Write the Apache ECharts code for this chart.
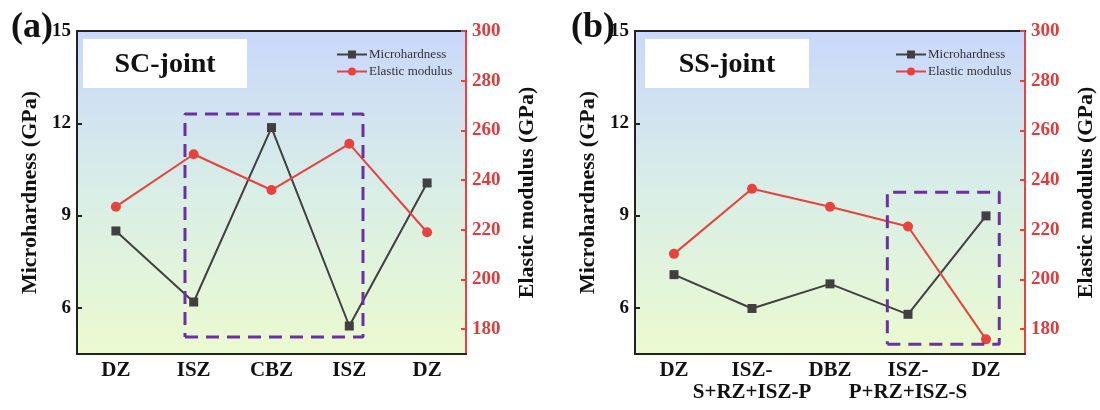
<!DOCTYPE html>
<html lang="en">
<head>
  <meta charset="UTF-8">
  <title>Microhardness / Elastic modulus</title>
  <script src="https://cdn.jsdelivr.net/npm/echarts@6/dist/echarts.min.js"></script>
  <style>
    html, body { margin: 0; padding: 0; background: #fff; }
    #main { width: 1100px; height: 410px; }
  </style>
</head>
<body>
<div id="main"></div>
<script>
  // data
  var catsA = ['DZ', 'ISZ', 'CBZ', 'ISZ', 'DZ'];
  var hardA = [8.5, 6.19, 11.86, 5.41, 10.06];
  var modA = [229.3, 250.4, 236.0, 254.6, 219.0];

  var catsB = ['DZ', 'ISZ-\nS+RZ+ISZ-P', 'DBZ', 'ISZ-\nP+RZ+ISZ-S', 'DZ'];
  var hardB = [7.08, 5.98, 6.78, 5.79, 8.99];
  var modB = [210.3, 236.5, 229.3, 221.3, 175.9];

  var hardTicks = [6, 9, 12, 15];
  var modTicks = [180, 200, 220, 240, 260, 280, 300];

  // dashed boxes: [x0, x1] in category index, [y0, y1] in GPa (hardness axis)
  var boxAx = [0.888, 3.176], boxAy = [5.05, 12.3];
  var boxBx = [2.735, 4.17], boxBy = [4.82, 9.76];

  var FONT = "'Liberation Serif', 'Times New Roman', serif";
  var RED = '#e8423f';
  var RED_TXT = '#e03a3a';
  var GREY = '#404040';
  var PURPLE = '#6a32a0';

  var chart = echarts.init(document.getElementById('main'));

  function bg() {
    return new echarts.graphic.LinearGradient(0, 0, 0, 1, [
      { offset: 0, color: '#c9d8fb' },
      { offset: 0.5, color: '#d9eee6' },
      { offset: 1, color: '#ebfad0' }
    ]);
  }

  function boxPts(bx, by) {
    return [[bx[0], by[0]], [bx[1], by[0]], [bx[1], by[1]], [bx[0], by[1]], [bx[0], by[0]]];
  }

  function catAxis(grid, cats) {
    return {
      type: 'category', gridIndex: grid, data: cats, boundaryGap: true,
      axisLine: { lineStyle: { color: '#222', width: 2 } },
      axisTick: { inside: true, alignWithLabel: true, length: 5, lineStyle: { color: '#222', width: 2 } },
      axisLabel: { interval: 0, color: '#111', fontFamily: FONT, fontWeight: 'bold', fontSize: 21, margin: 6, lineHeight: 22 },
      splitLine: { show: false }
    };
  }

  // hidden value axis on top: used for the dashed box and the black top border
  function topAxis(grid) {
    return {
      type: 'value', gridIndex: grid, position: 'top', min: -0.5, max: 4.5,
      axisLine: { show: true, onZero: false, lineStyle: { color: '#222', width: 2 } },
      axisTick: { show: false }, axisLabel: { show: false }, splitLine: { show: false }
    };
  }

  function hardAxis(grid) {
    return {
      type: 'value', gridIndex: grid, position: 'left', min: 4.5, max: 15,
      name: 'Microhardness (GPa)', nameLocation: 'middle', nameGap: 36,
      nameTextStyle: { color: '#111', fontFamily: FONT, fontWeight: 'bold', fontSize: 22 },
      axisLine: { show: true, onZero: false, lineStyle: { color: '#222', width: 2 } },
      axisTick: { show: true, inside: true, length: 5, customValues: hardTicks, lineStyle: { color: '#222', width: 2 } },
      axisLabel: { customValues: hardTicks, color: '#111', fontFamily: FONT, fontWeight: 'bold', fontSize: 19, margin: 6 },
      splitLine: { show: false }
    };
  }

  function modAxis(grid) {
    return {
      type: 'value', gridIndex: grid, position: 'right', min: 170, max: 300,
      name: 'Elastic modulus (GPa)', nameLocation: 'middle', nameGap: 50,
      nameTextStyle: { color: '#111', fontFamily: FONT, fontWeight: 'bold', fontSize: 22 },
      axisLine: { show: true, onZero: false, lineStyle: { color: RED, width: 2 } },
      axisTick: { show: true, inside: true, length: 5, customValues: modTicks, lineStyle: { color: RED, width: 2 } },
      axisLabel: { customValues: modTicks, color: RED_TXT, fontFamily: FONT, fontWeight: 'bold', fontSize: 19, margin: 6 },
      splitLine: { show: false }
    };
  }

  function hardSeries(x, y, data) {
    return {
      name: 'Microhardness', type: 'line', xAxisIndex: x, yAxisIndex: y, data: data,
      symbol: 'rect', symbolSize: 9, z: 3,
      lineStyle: { color: GREY, width: 2 }, itemStyle: { color: GREY }
    };
  }

  function modSeries(x, y, data) {
    return {
      name: 'Elastic modulus', type: 'line', xAxisIndex: x, yAxisIndex: y, data: data,
      symbol: 'circle', symbolSize: 10, z: 3,
      lineStyle: { color: RED, width: 2 }, itemStyle: { color: RED }
    };
  }

  function boxSeries(x, y, pts) {
    return {
      type: 'line', xAxisIndex: x, yAxisIndex: y, data: pts, silent: true,
      symbol: 'none', z: 4,
      lineStyle: { color: PURPLE, width: 3, type: [13, 8] }
    };
  }

  function legendAt(left) {
    return {
      left: left, top: 43, orient: 'vertical', itemWidth: 30, itemHeight: 10, itemGap: 4,
      data: ['Microhardness', 'Elastic modulus'],
      textStyle: { fontFamily: FONT, fontSize: 13, color: '#333', lineHeight: 13, padding: [0, 0, 0, -3] }
    };
  }

  function tagBox(x, y, w, h, txt) {
    return {
      type: 'group', z: 10,
      children: [
        { type: 'rect', shape: { x: x, y: y, width: w, height: h }, style: { fill: '#fff' } },
        { type: 'text', x: x + w / 2, y: y + h / 2 + 1,
          style: { text: txt, fontFamily: FONT, fontWeight: 'bold', fontSize: 28, fill: '#111', align: 'center', verticalAlign: 'middle' } }
      ]
    };
  }

  var option = {
    animation: false,
    backgroundColor: '#fff',
    grid: [
      { left: 77, top: 31, width: 389, height: 323, show: true, backgroundColor: bg(), borderWidth: 0 },
      { left: 635, top: 31, width: 390, height: 323, show: true, backgroundColor: bg(), borderWidth: 0 }
    ],
    legend: [legendAt(331), legendAt(890)],
    xAxis: [catAxis(0, catsA), topAxis(0), catAxis(1, catsB), topAxis(1)],
    yAxis: [hardAxis(0), modAxis(0), hardAxis(1), modAxis(1)],
    series: [
      hardSeries(0, 0, hardA),
      modSeries(0, 1, modA),
      boxSeries(1, 0, boxPts(boxAx, boxAy)),
      hardSeries(2, 2, hardB),
      modSeries(2, 3, modB),
      boxSeries(3, 2, boxPts(boxBx, boxBy))
    ],
    graphic: [
      tagBox(83, 39, 164, 49, 'SC-joint'),
      tagBox(645, 39, 164, 49, 'SS-joint'),
      { type: 'text', left: 11, top: 10, z: 20,
        style: { text: '(a)', fontFamily: FONT, fontWeight: 'bold', fontSize: 36, fill: '#111' } },
      { type: 'text', left: 571, top: 10, z: 20,
        style: { text: '(b)', fontFamily: FONT, fontWeight: 'bold', fontSize: 36, fill: '#111' } }
    ]
  };

  option && chart.setOption(option);
</script>
</body>
</html>
